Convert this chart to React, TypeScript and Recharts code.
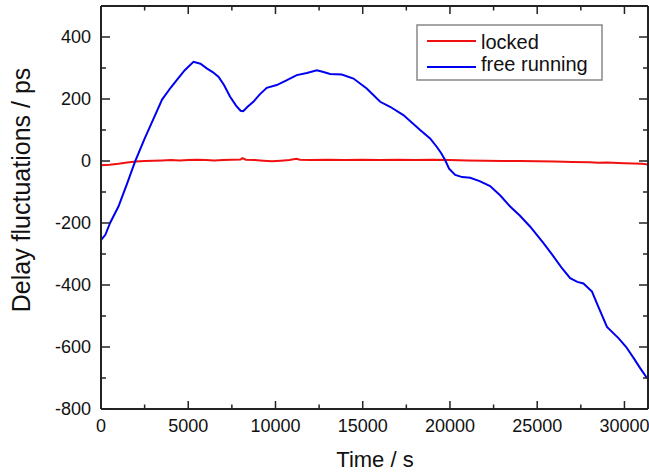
import React from 'react';
import { LineChart, Line, XAxis, YAxis } from 'recharts';

const X_MAJOR = [0, 5000, 10000, 15000, 20000, 25000, 30000];
const X_MINOR = [2500, 7500, 12500, 17500, 22500, 27500];
const Y_MAJOR = [-800, -600, -400, -200, 0, 200, 400];
const Y_MINOR = [-700, -500, -300, -100, 100, 300];

const SERIES_NAMES = ['locked', 'free running'];

const lockedPoints: [number, number][] = [
  [0, -14], [500, -12], [1000, -9], [1500, -5], [2000, -2], [2500, 0], [3000, 1], [3500, 2],
  [4000, 3], [4500, 2], [5000, 3], [5500, 4], [6000, 3], [6500, 2], [7000, 3], [7500, 4],
  [8000, 5], [8100, 9], [8300, 4], [8800, 3], [9300, 1], [9800, -1], [10300, 1], [10800, 3],
  [11200, 7], [11400, 4], [12000, 3], [13000, 4], [14000, 3], [15000, 4], [16000, 3],
  [17000, 4], [18000, 3], [19000, 4], [20000, 3], [21000, 2], [22000, 1], [23000, 0],
  [24000, 0], [25000, -1], [26000, -2], [27000, -3], [28000, -4], [28500, -6], [29000, -5],
  [30000, -7], [31000, -9], [31350, -11],
];

const freePoints: [number, number][] = [
  [0, -255], [250, -238], [520, -200], [1000, -147], [1500, -72], [1950, -2], [2500, 72],
  [3000, 135], [3500, 198], [4000, 237], [4340, 261], [4800, 293], [5300, 320], [5700, 314],
  [6060, 299], [6400, 287], [6730, 272], [7050, 245], [7400, 207], [7750, 178], [8000, 162],
  [8150, 161], [8400, 175], [8730, 191], [9100, 215], [9500, 236], [10070, 245], [10600, 259],
  [11220, 277], [11800, 284], [12370, 293], [12700, 288], [13130, 281], [13800, 279],
  [14470, 266], [15230, 234], [16000, 191], [16570, 175], [17330, 148], [18290, 100],
  [18860, 73], [19240, 46], [19500, 25], [19720, 3], [19950, -25], [20300, -45], [20700, -52],
  [21160, -54], [21700, -65], [22300, -81], [22900, -112], [23450, -147], [24000, -176],
  [24600, -212], [25360, -265], [25900, -305], [26420, -346], [26890, -378], [27300, -390],
  [27650, -395], [28140, -421], [28500, -470], [29000, -535], [29670, -572], [30100, -600],
  [30530, -636], [30900, -668], [31300, -701],
];

const lockedData = lockedPoints.map(([t, v]) => ({ t, v }));
const freeData = freePoints.map(([t, v]) => ({ t, v }));

const X_DOMAIN: [number, number] = [0, 31350];
const Y_DOMAIN: [number, number] = [-800, 500];

const FONT = "Arial, 'Liberation Sans', Helvetica, sans-serif";
const AXIS = '#222';
const RED = '#f01010';
const BLUE = '#0000f0';

const xTicks = [...X_MAJOR, ...X_MINOR].sort((a, b) => a - b);
const yTicks = [...Y_MAJOR, ...Y_MINOR].sort((a, b) => a - b);

const isXMajor = (v: number) => X_MAJOR.includes(v);
const isYMajor = (v: number) => Y_MAJOR.includes(v);

const BottomTick = (props: any) => {
  const { x, y, payload } = props;
  const major = isXMajor(payload.value);
  return (
    <g>
      <line x1={x} x2={x} y1={y} y2={y - (major ? 8 : 4.5)} stroke={AXIS} strokeWidth={1.5} />
      {major && (
        <text x={x} y={y + 23} textAnchor="middle" fontSize={18} fontFamily={FONT} fill="#111">
          {payload.value}
        </text>
      )}
    </g>
  );
};

const TopTick = (props: any) => {
  const { x, y, payload } = props;
  const major = isXMajor(payload.value);
  return <line x1={x} x2={x} y1={y} y2={y + (major ? 8 : 4.5)} stroke={AXIS} strokeWidth={1.5} />;
};

const LeftTick = (props: any) => {
  const { x, y, payload } = props;
  const major = isYMajor(payload.value);
  return (
    <g>
      <line x1={x} x2={x + (major ? 9 : 5)} y1={y} y2={y} stroke={AXIS} strokeWidth={1.5} />
      {major && (
        <text x={x - 10} y={y + 6} textAnchor="end" fontSize={18} fontFamily={FONT} fill="#111">
          {payload.value}
        </text>
      )}
    </g>
  );
};

const RightTick = (props: any) => {
  const { x, y, payload } = props;
  const major = isYMajor(payload.value);
  return <line x1={x} x2={x - (major ? 9 : 5)} y1={y} y2={y} stroke={AXIS} strokeWidth={1.5} />;
};

const XTitle = () => (
  <text x={375} y={467} textAnchor="middle" fontSize={22} fontFamily={FONT} fill="#111">
    Time / s
  </text>
);

const YTitle = () => (
  <text
    x={0}
    y={0}
    transform="translate(30,190) rotate(-90)"
    textAnchor="middle"
    fontSize={25}
    fontFamily={FONT}
    fill="#111"
  >
    Delay fluctuations / ps
  </text>
);

const LegendBox = () => (
  <g>
    <rect x={417} y={25} width={185} height={55} fill="#fff" stroke="#888" strokeWidth={1.5} />
    <line x1={427} x2={476} y1={41} y2={41} stroke={RED} strokeWidth={2} />
    <text x={481} y={49} fontSize={20} fontFamily={FONT} fill="#111">{SERIES_NAMES[0]}</text>
    <line x1={427} x2={476} y1={67} y2={67} stroke={BLUE} strokeWidth={2} />
    <text x={481} y={71} fontSize={20} fontFamily={FONT} fill="#111">{SERIES_NAMES[1]}</text>
  </g>
);

export default function App() {
  return (
    <div style={{ position: 'absolute', left: 0, top: 0, width: 649, height: 474, background: '#fff' }}>
      <LineChart width={649} height={474} margin={{ top: 5, right: 0, bottom: 0, left: 0 }}>
        <XAxis
          xAxisId="main"
          dataKey="t"
          type="number"
          domain={X_DOMAIN}
          ticks={xTicks}
          interval={0}
          allowDataOverflow
          orientation="bottom"
          height={65}
          tickSize={0}
          tickMargin={0}
          tickLine={false}
          axisLine={{ stroke: AXIS, strokeWidth: 2 }}
          tick={<BottomTick />}
          label={{ content: () => <XTitle /> }}
        />
        <XAxis
          xAxisId="top"
          dataKey="t"
          type="number"
          domain={X_DOMAIN}
          ticks={xTicks}
          interval={0}
          allowDataOverflow
          orientation="top"
          height={1}
          tickSize={0}
          tickMargin={0}
          tickLine={false}
          axisLine={{ stroke: AXIS, strokeWidth: 2 }}
          tick={<TopTick />}
          label={{ content: () => <LegendBox /> }}
        />
        <YAxis
          yAxisId="main"
          type="number"
          domain={Y_DOMAIN}
          ticks={yTicks}
          interval={0}
          allowDataOverflow
          orientation="left"
          width={101}
          tickSize={0}
          tickMargin={0}
          tickLine={false}
          axisLine={{ stroke: AXIS, strokeWidth: 2 }}
          tick={<LeftTick />}
          label={{ content: () => <YTitle /> }}
        />
        <YAxis
          yAxisId="right"
          type="number"
          domain={Y_DOMAIN}
          ticks={yTicks}
          interval={0}
          allowDataOverflow
          orientation="right"
          width={1}
          tickSize={0}
          tickMargin={0}
          tickLine={false}
          axisLine={{ stroke: AXIS, strokeWidth: 2 }}
          tick={<RightTick />}
        />
        <Line
          xAxisId="top"
          yAxisId="right"
          data={lockedData}
          dataKey="v"
          stroke="none"
          strokeWidth={0}
          dot={false}
          legendType="none"
          isAnimationActive={false}
        />
        <Line
          xAxisId="main"
          yAxisId="main"
          data={lockedData}
          dataKey="v"
          name={SERIES_NAMES[0]}
          stroke={RED}
          strokeWidth={2}
          dot={false}
          isAnimationActive={false}
        />
        <Line
          xAxisId="main"
          yAxisId="main"
          data={freeData}
          dataKey="v"
          name={SERIES_NAMES[1]}
          stroke={BLUE}
          strokeWidth={2}
          dot={false}
          isAnimationActive={false}
        />
      </LineChart>
    </div>
  );
}
